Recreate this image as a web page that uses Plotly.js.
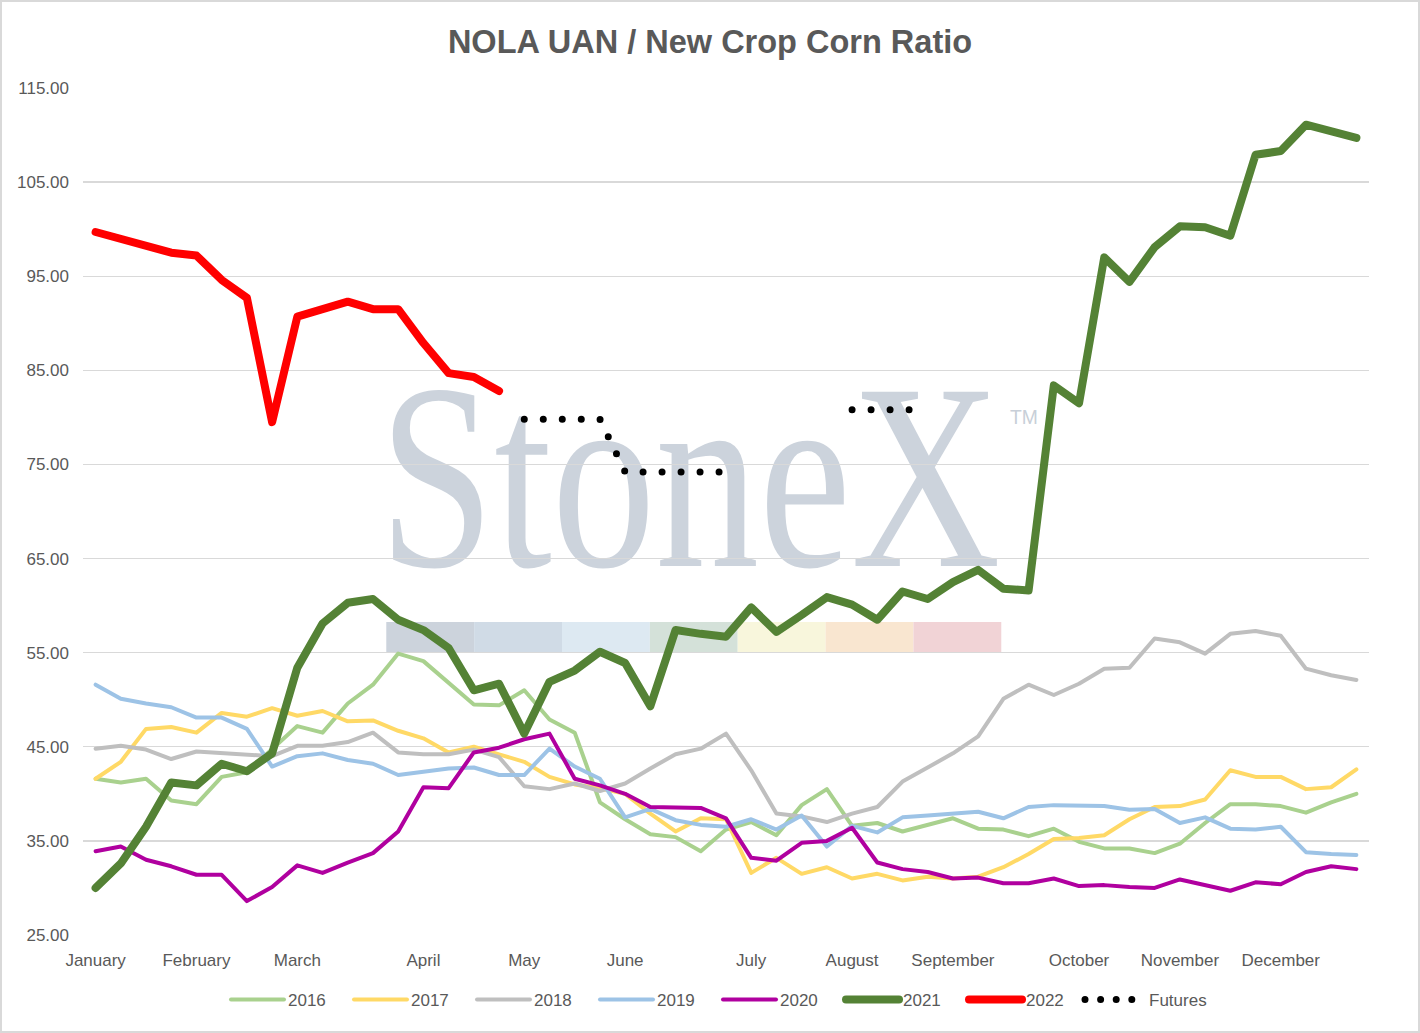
<!DOCTYPE html>
<html>
<head>
<meta charset="utf-8">
<title>NOLA UAN / New Crop Corn Ratio</title>
<script src="https://cdn.plot.ly/plotly-3.0.1.min.js"></script>
<style>
  html, body { margin: 0; padding: 0; background: #ffffff; }
  #chart { width: 1416px; height: 1029px; border: 2px solid #d9d9d9; }
  /* Excel draws its lines with round ends, the futures dots need it too */
  #chart .scatterlayer path.js-line,
  #chart .legendlines path { stroke-linecap: round; stroke-linejoin: round; }
</style>
</head>
<body>
<div id="chart"></div>
<script>
// weekly points, one per week of the year
const monthTicks = [0, 4, 8, 13, 17, 21, 26, 30, 34, 39, 43, 47];
const monthNames = ['January', 'February', 'March', 'April', 'May', 'June',
                    'July', 'August', 'September', 'October', 'November', 'December'];

const y2016 = [41.6, 41.2, 41.6, 39.3, 38.9, 41.8, 42.3, 44.7, 47.2, 46.5,
               49.6, 51.6, 54.9, 54.1, 51.8, 49.5, 49.4, 51.0, 47.9, 46.5,
               39.1, 37.3, 35.7, 35.4, 33.9, 36.2, 37.0, 35.6, 38.8, 40.5,
               36.6, 36.9, 36.0, 36.7, 37.4, 36.3, 36.2, 35.5, 36.3, 34.9,
               34.2, 34.2, 33.7, 34.7, 36.9, 38.9, 38.9, 38.7, 38.0, 39.1, 40.0];
const y2017 = [41.6, 43.4, 46.9, 47.1, 46.5, 48.6, 48.2, 49.1, 48.3, 48.8,
               47.7, 47.8, 46.7, 45.9, 44.4, 45.0, 44.2, 43.4, 41.8, 41.0,
               40.6, 40.0, 37.9, 36.0, 37.4, 37.3, 31.6, 33.2, 31.5, 32.2,
               31.0, 31.5, 30.8, 31.2, 31.0, 31.2, 32.2, 33.6, 35.2, 35.3,
               35.6, 37.3, 38.6, 38.7, 39.4, 42.5, 41.8, 41.8, 40.5, 40.7, 42.6];
const y2018 = [44.8, 45.1, 44.7, 43.7, 44.5, 44.3, 44.1, 44.0, 45.1, 45.1,
               45.5, 46.5, 44.4, 44.2, 44.2, 44.7, 43.9, 40.8, 40.5, 41.1,
               40.3, 41.1, 42.7, 44.2, 44.8, 46.4, 42.5, 37.9, 37.6, 37.0,
               37.9, 38.6, 41.3, 42.8, 44.3, 46.1, 50.1, 51.6, 50.5, 51.7,
               53.3, 53.4, 56.5, 56.1, 54.9, 57.0, 57.3, 56.8, 53.3, 52.6, 52.1];
const y2019 = [51.6, 50.1, 49.6, 49.2, 48.1, 48.1, 46.9, 42.9, 44.0, 44.3,
               43.6, 43.2, 42.0, 42.4, 42.7, 42.8, 42.0, 42.0, 44.8, 42.9,
               41.6, 37.5, 38.4, 37.2, 36.7, 36.5, 37.3, 36.2, 37.7, 34.4,
               36.6, 35.9, 37.5, 37.7, 37.9, 38.1, 37.4, 38.6, 38.8, 38.7,
               38.7, 38.3, 38.4, 36.9, 37.5, 36.3, 36.2, 36.5, 33.8, 33.6, 33.5];
const y2020 = [33.9, 34.4, 33.0, 32.3, 31.4, 31.4, 28.6, 30.1, 32.4, 31.6,
               32.7, 33.7, 36.0, 40.7, 40.6, 44.4, 44.9, 45.8, 46.4, 41.6,
               40.9, 40.0, 38.6, 38.5, 38.5, 37.4, 33.2, 32.9, 34.8, 35.0,
               36.4, 32.7, 32.0, 31.7, 31.0, 31.1, 30.5, 30.5, 31.0, 30.2,
               30.3, 30.1, 30.0, 30.9, 30.3, 29.7, 30.6, 30.4, 31.7, 32.3, 32.0];
const y2021 = [30.0, 32.6, 36.5, 41.2, 40.9, 43.2, 42.4, 44.3, 53.4, 58.1,
               60.3, 60.7, 58.5, 57.4, 55.5, 51.0, 51.7, 46.4, 51.9, 53.1,
               55.1, 53.9, 49.3, 57.4, 57.0, 56.7, 59.8, 57.2, 59.0, 60.9,
               60.1, 58.5, 61.5, 60.7, 62.5, 63.8, 61.8, 61.6, 83.4, 81.5,
               97.0, 94.4, 98.1, 100.3, 100.2, 99.3, 107.9, 108.3, 111.1, 110.4, 109.7];
const y2022 = [99.7, 99.0, 98.3, 97.5, 97.2, 94.6, 92.7, 79.5, 90.7, 91.4,
               92.3, 91.5, 91.5, 87.9, 84.7, 84.3, 82.8];
const yFutures = [null, null, null, null, null, null, null, null, null, null,
                  null, null, null, null, null, null, null, 79.8, 79.8, 79.8,
                  79.8, 74.2, 74.2, 74.2, 74.2, 74.2, null, null, null, null,
                  80.8, 80.8, 80.8, 80.8];

const weeks = y2016.map((v, i) => i);

const series = [
  { name: '2016', y: y2016, color: '#a9d18e', width: 4 },
  { name: '2017', y: y2017, color: '#ffd966', width: 4 },
  { name: '2018', y: y2018, color: '#bfbfbf', width: 4 },
  { name: '2019', y: y2019, color: '#9dc3e6', width: 4 },
  { name: '2020', y: y2020, color: '#b0009f', width: 4 },
  { name: '2021', y: y2021, color: '#548235', width: 8 },
  { name: '2022', y: y2022, color: '#ff0000', width: 8 }
];

const data = series.map(s => ({
  name: s.name,
  x: weeks.slice(0, s.y.length),
  y: s.y,
  type: 'scatter',
  mode: 'lines',
  line: { color: s.color, width: s.width },
  hoverinfo: 'x+y+name'
}));

data.push({
  name: 'Futures',
  x: weeks.slice(0, yFutures.length),
  y: yFutures,
  type: 'scatter',
  mode: 'lines',
  connectgaps: false,
  line: { color: '#000000', width: 7, dash: '0px,19px' }
});

// plot area inside the div, in pixels
const plotL = 81.4, plotR = 1366.6, plotT = 86, plotB = 933;
const W = 1416, H = 1029;
function paperX(px) { return (px - plotL) / (plotR - plotL); }
function paperY(py) { return (plotB - py) / (plotB - plotT); }

// coloured band under the StoneX logo
const bandColors = ['#ccd3dc', '#d0dbe6', '#dde9f2', '#d4e1d9', '#f8f6dc', '#f9e6d0', '#f1d3d6'];
const shapes = bandColors.map((c, i) => ({
  type: 'rect', xref: 'paper', yref: 'paper', layer: 'below',
  x0: paperX(384.5 + i * 87.8), x1: paperX(384.5 + (i + 1) * 87.8),
  y0: paperY(650), y1: paperY(620),
  fillcolor: c, line: { width: 0 }
}));

const font = 'Liberation Sans, Arial, sans-serif';

const layout = {
  width: W,
  height: H,
  margin: { l: plotL, r: W - plotR, t: plotT, b: H - plotB, pad: 0 },
  paper_bgcolor: '#ffffff',
  plot_bgcolor: '#ffffff',
  font: { family: font, size: 17, color: '#595959' },
  title: {
    text: 'NOLA UAN / New Crop Corn Ratio',
    font: { family: font, size: 32.5, color: '#595959', weight: 'bold' },
    x: 0.5, xanchor: 'center',
    yref: 'container', y: 1 - 40 / H, yanchor: 'middle'
  },
  xaxis: {
    range: [-0.5, weeks.length - 0.5],
    tickvals: monthTicks,
    ticktext: monthNames,
    showgrid: false,
    zeroline: false,
    showline: false,
    ticks: '',
    ticklabelstandoff: 13,
    tickfont: { family: font, size: 17, color: '#595959' },
    fixedrange: true
  },
  yaxis: {
    range: [25, 115],
    tick0: 25,
    dtick: 10,
    tickformat: '.2f',
    showgrid: true,
    gridcolor: '#d9d9d9',
    gridwidth: 1.3,
    zeroline: false,
    showline: false,
    ticks: '',
    ticklabelstandoff: 13,
    tickfont: { family: font, size: 17, color: '#595959' },
    fixedrange: true
  },
  showlegend: true,
  legend: {
    orientation: 'h',
    x: paperX(738), xanchor: 'center',
    y: paperY(998), yanchor: 'middle',
    entrywidth: 78,
    font: { family: font, size: 17, color: '#595959' },
    bgcolor: 'rgba(0,0,0,0)'
  },
  shapes: shapes,
  hovermode: 'closest'
};

// StoneX watermark behind the grid, and Excel-like legend samples
function finishChart(gd) {
  const ns = 'http://www.w3.org/2000/svg';
  const layer = gd.querySelector('.layer-below');
  const g = document.createElementNS(ns, 'g');
  g.setAttribute('class', 'watermark');

  const logo = document.createElementNS(ns, 'text');
  logo.setAttribute('transform', 'translate(377,564) scale(0.779,1)');
  logo.setAttribute('font-family', 'Liberation Serif, Times New Roman, serif');
  logo.setAttribute('font-size', 266);
  logo.setAttribute('fill', '#ccd3dc');
  logo.textContent = 'StoneX';
  g.appendChild(logo);

  const tm = document.createElementNS(ns, 'text');
  tm.setAttribute('transform', 'translate(1008,422) scale(0.92,1)');
  tm.setAttribute('font-family', font);
  tm.setAttribute('font-size', 21);
  tm.setAttribute('fill', '#c8cfd8');
  tm.textContent = 'TM';
  g.appendChild(tm);

  layer.insertBefore(g, layer.firstChild);

  // the first sample sticks out of the legend box, so drop its clip
  const scroll = gd.querySelector('.legend .scrollbox');
  if (scroll) scroll.removeAttribute('clip-path');

  // longer legend samples, closer dots for the futures entry
  const items = gd.querySelectorAll('.legend .traces');
  items.forEach((item, i) => {
    const path = item.querySelector('.legendlines path');
    if (!path) return;
    if (i === items.length - 1) {
      path.setAttribute('d', 'M-24,0h47');
      path.style.strokeDasharray = '0px,15.6px';
    } else {
      path.setAttribute('d', 'M-17,0h53');
    }
  });
}

Plotly.newPlot('chart', data, layout, { displayModeBar: false, staticPlot: true })
  .then(finishChart);
</script>
</body>
</html>
